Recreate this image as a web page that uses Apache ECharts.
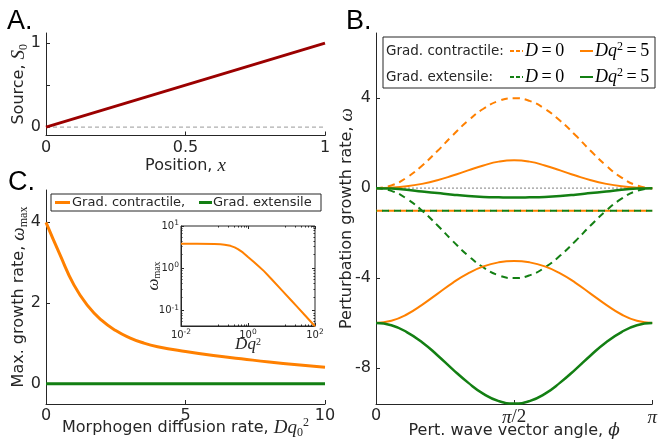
<!DOCTYPE html>
<html>
<head>
<meta charset="utf-8">
<title>growth rate panels</title>
<script src="https://cdn.jsdelivr.net/npm/echarts@6/dist/echarts.min.js"></script>
<style>
  html, body { margin: 0; padding: 0; background: #fff; }
  #main { width: 660px; height: 445px; }
</style>
</head>
<body>
<div id="main"></div>
<script>
// ---- panel A : source profile
var posX = [0, 1];
var srcS0 = [0, 1];

// ---- panel B : growth rate vs angle (angle in degrees, shown as 0, pi/2, pi)
var phiDeg = [0, 10, 20, 30, 40, 50, 60, 70, 80, 90, 100, 110, 120, 130, 140, 150, 160, 170, 180];
var contrD0 = [0, 0.12, 0.47, 1.0, 1.65, 2.35, 3.0, 3.53, 3.88, 4.0, 3.88, 3.53, 3.0, 2.35, 1.65, 1.0, 0.47, 0.12, 0];
var extD0 = [0, -0.12, -0.47, -1.0, -1.65, -2.35, -3.0, -3.53, -3.88, -4.0, -3.88, -3.53, -3.0, -2.35, -1.65, -1.0, -0.47, -0.12, 0];
var flatD0 = [-1, -1, -1, -1, -1, -1, -1, -1, -1, -1, -1, -1, -1, -1, -1, -1, -1, -1, -1];
var contrUp = [0, 0.02, 0.08, 0.19, 0.35, 0.56, 0.79, 1.01, 1.18, 1.24, 1.18, 1.01, 0.79, 0.56, 0.35, 0.19, 0.08, 0.02, 0];
var contrLow = [-6, -5.90, -5.62, -5.19, -4.70, -4.21, -3.79, -3.48, -3.30, -3.24, -3.30, -3.48, -3.79, -4.21, -4.70, -5.19, -5.62, -5.90, -6];
var extUp = [0, -0.02, -0.07, -0.15, -0.22, -0.29, -0.35, -0.39, -0.41, -0.42, -0.41, -0.39, -0.35, -0.29, -0.22, -0.15, -0.07, -0.02, 0];
var extLow = [-6, -6.10, -6.40, -6.85, -7.43, -8.06, -8.65, -9.15, -9.47, -9.58, -9.47, -9.15, -8.65, -8.06, -7.43, -6.85, -6.40, -6.10, -6];

// ---- panel C : max growth rate vs diffusion
var dq = [0, 0.5, 1, 1.5, 2, 2.5, 3, 3.5, 4, 5, 6, 7, 8, 9, 10];
var contrMax = [4.0, 3.2, 2.45, 1.93, 1.57, 1.32, 1.14, 1.01, 0.92, 0.80, 0.70, 0.62, 0.54, 0.47, 0.41];
var extMax = [0, 0, 0, 0, 0, 0, 0, 0, 0, 0, 0, 0, 0, 0, 0];
// inset (log-log)
var dqLog = [0.01, 0.03, 0.1, 0.15, 0.2, 0.3, 0.4, 0.5, 0.7, 1, 1.5, 2, 3, 5, 10, 20, 30, 50, 100];
var contrMaxLog = [3.8, 3.8, 3.76, 3.7, 3.62, 3.4, 3.12, 2.85, 2.38, 1.85, 1.42, 1.15, 0.86, 0.56, 0.31, 0.172, 0.121, 0.078, 0.043];

var ORANGE = '#ff8000';
var GREEN = '#137f13';
var DARKRED = '#9b0000';
var INK = '#262626';
var SANS = '"DejaVu Sans", sans-serif';
var SERIF = '"Liberation Serif", serif';

function zip(xs, ys) {
  var out = [];
  for (var i = 0; i < xs.length; i++) out.push([xs[i], ys[i]]);
  return out;
}

// rich styles for the math bits in names and legends
var nameRich = {
  t: { fontFamily: SANS, fontSize: 16, color: INK, lineHeight: 22 },
  m: { fontFamily: SERIF, fontStyle: 'italic', fontSize: 19, color: INK, lineHeight: 22 },
  g: { fontFamily: '"DejaVu Serif", serif', fontStyle: 'italic', fontSize: 17, color: INK, lineHeight: 22 },
  r: { fontFamily: SERIF, fontSize: 19, color: INK, lineHeight: 22 },
  sub: { fontFamily: SERIF, fontSize: 12, color: INK, lineHeight: 12, verticalAlign: 'bottom' },
  sup: { fontFamily: SERIF, fontSize: 12, color: INK, lineHeight: 12, verticalAlign: 'top' }
};
var insetRich = {
  m: { fontFamily: SERIF, fontStyle: 'italic', fontSize: 17, color: INK, lineHeight: 16 },
  sub: { fontFamily: SERIF, fontSize: 10, color: INK, lineHeight: 10, verticalAlign: 'bottom' },
  sup: { fontFamily: SERIF, fontSize: 10, color: INK, lineHeight: 10, verticalAlign: 'top' }
};
var legRich = {
  m: { fontFamily: SERIF, fontStyle: 'italic', fontSize: 18, color: INK, lineHeight: 20 },
  r: { fontFamily: SERIF, fontSize: 18, color: INK, lineHeight: 20 },
  sup: { fontFamily: SERIF, fontSize: 12, color: INK, lineHeight: 11, verticalAlign: 'top' }
};

function baseAxis(extra) {
  var a = {
    axisLine: { show: true, onZero: false, lineStyle: { color: INK, width: 1 } },
    axisTick: { show: true, inside: true, length: 4, lineStyle: { color: INK } },
    axisLabel: { color: INK, fontFamily: SANS, fontSize: 16, margin: 4 },
    splitLine: { show: false },
    nameLocation: 'middle',
    nameMoveOverlap: false,
    nameTextStyle: { rich: nameRich }
  };
  for (var k in extra) a[k] = extra[k];
  return a;
}

var chart = echarts.init(document.getElementById('main'));

var logLabel = function (v) {
  var e = Math.round(Math.log(v) / Math.LN10);
  return '{b|10}{s|' + e + '}';
};
var logRich = {
  b: { fontFamily: SANS, fontSize: 10, color: INK, lineHeight: 14 },
  s: { fontFamily: SANS, fontSize: 7.5, color: INK, lineHeight: 8, verticalAlign: 'top' }
};

var option = {
  animation: false,
  backgroundColor: '#fff',
  grid: [
    { left: 46, top: 33, width: 279, height: 102.5 },
    { left: 376, top: 33, width: 280, height: 371 },
    { left: 46, top: 190, width: 279, height: 214 },
    { left: 181, top: 226, width: 134, height: 100, show: true, backgroundColor: '#fff', borderColor: INK, borderWidth: 1, z: 5 }
  ],
  xAxis: [
    baseAxis({ gridIndex: 0, type: 'value', min: 0, max: 1, interval: 0.5,
      name: '{t|Position, }{m|x}', nameGap: 19 }),
    baseAxis({ gridIndex: 1, type: 'value', min: 0, max: 180, interval: 90,
      axisLabel: { color: INK, fontFamily: SANS, fontSize: 16, margin: 4,
        formatter: function (v) { return v === 0 ? '{d|0}' : (v === 90 ? '{p|π}{q|/2}' : '{p|π}'); },
        rich: {
          d: { fontFamily: SANS, fontSize: 16, color: INK },
          p: { fontFamily: SERIF, fontStyle: 'italic', fontSize: 19, color: INK },
          q: { fontFamily: SERIF, fontSize: 19, color: INK }
        } },
      name: '{t|Pert. wave vector angle, }{g|ϕ}', nameGap: 16 }),
    baseAxis({ gridIndex: 2, type: 'value', min: 0, max: 10, interval: 5,
      name: '{t|Morphogen diffusion rate, }{m|Dq}{sub|0}{sup|2}', nameGap: 13 }),
    { gridIndex: 3, type: 'log', logBase: 10, min: 0.01, max: 100, interval: 2,
      axisLine: { show: true, onZero: false, lineStyle: { color: INK } },
      axisTick: { show: true, inside: true, length: 3, lineStyle: { color: INK } },
      minorTick: { show: true, splitNumber: 8, length: 1.5, lineStyle: { color: INK } },
      axisLabel: { formatter: logLabel, rich: logRich, margin: 2 },
      splitLine: { show: false },
      name: '{m|Dq}{sup|2}', nameLocation: 'middle', nameGap: 11, nameMoveOverlap: false,
      nameTextStyle: { rich: insetRich }, z: 6 },
    { gridIndex: 3, type: 'log', logBase: 10, min: 0.01, max: 100, interval: 2, position: 'top',
      axisLine: { show: false },
      axisTick: { show: true, inside: true, length: 3, lineStyle: { color: INK } },
      minorTick: { show: true, splitNumber: 8, length: 1.5, lineStyle: { color: INK } },
      axisLabel: { show: false }, splitLine: { show: false }, z: 6 }
  ],
  yAxis: [
    baseAxis({ gridIndex: 0, type: 'value', min: -0.1, max: 1.12,
      axisTick: { show: true, inside: true, length: 4, lineStyle: { color: INK }, customValues: [0, 0.5, 1] },
      axisLabel: { color: INK, fontFamily: SANS, fontSize: 16, margin: 5, customValues: [0, 1] },
      name: '{t|Source, }{m|S}{sub|0}', nameGap: 16 }),
    baseAxis({ gridIndex: 1, type: 'value', min: -9.6, max: 6.9,
      axisTick: { show: true, inside: true, length: 4, lineStyle: { color: INK }, customValues: [-8, -4, 0, 4] },
      axisLabel: { color: INK, fontFamily: SANS, fontSize: 16, margin: 5, customValues: [-8, -4, 0, 4] },
      name: '{t|Perturbation growth rate, }{m|ω}', nameGap: 18 }),
    baseAxis({ gridIndex: 2, type: 'value', min: -0.5, max: 4.8,
      axisTick: { show: true, inside: true, length: 4, lineStyle: { color: INK }, customValues: [0, 2, 4] },
      axisLabel: { color: INK, fontFamily: SANS, fontSize: 16, margin: 5, customValues: [0, 2, 4] },
      name: '{t|Max. growth rate, }{m|ω}{sub|max}', nameGap: 16 }),
    { gridIndex: 3, type: 'log', logBase: 10, min: 0.0435, max: 10, splitNumber: 5,
      axisLine: { show: true, onZero: false, lineStyle: { color: INK } },
      axisTick: { show: true, inside: true, length: 3, lineStyle: { color: INK } },
      minorTick: { show: true, splitNumber: 8, length: 1.5, lineStyle: { color: INK } },
      axisLabel: { formatter: logLabel, rich: logRich, margin: 2, showMinLabel: false },
      splitLine: { show: false },
      name: '{m|ω}{sub|max}', nameLocation: 'middle', nameGap: 19, nameMoveOverlap: false,
      nameTextStyle: { rich: insetRich }, z: 6 },
    { gridIndex: 3, type: 'log', logBase: 10, min: 0.0435, max: 10, splitNumber: 5, position: 'right',
      axisLine: { show: false },
      axisTick: { show: true, inside: true, length: 3, lineStyle: { color: INK } },
      minorTick: { show: true, splitNumber: 8, length: 1.5, lineStyle: { color: INK } },
      axisLabel: { show: false }, splitLine: { show: false }, z: 6 }
  ],
  series: [
    // A
    { name: 'zeroA', type: 'line', xAxisIndex: 0, yAxisIndex: 0, data: [[0, 0], [1, 0]],
      symbol: 'none', lineStyle: { color: '#999', width: 1, type: [4, 3] } },
    { name: 'source', type: 'line', xAxisIndex: 0, yAxisIndex: 0, data: zip(posX, srcS0),
      symbol: 'none', lineStyle: { color: DARKRED, width: 3 } },
    // B
    { name: 'zeroB', type: 'line', xAxisIndex: 1, yAxisIndex: 1, data: [[0, 0], [180, 0]],
      symbol: 'none', lineStyle: { color: '#aaa', width: 1.5, type: [2, 2] } },
    { name: 'cD0', type: 'line', xAxisIndex: 1, yAxisIndex: 1, data: zip(phiDeg, contrD0), smooth: true,
      symbol: 'none', lineStyle: { color: ORANGE, width: 2, type: [7, 5] } },
    { name: 'cD0flat', type: 'line', xAxisIndex: 1, yAxisIndex: 1, data: zip(phiDeg, flatD0),
      symbol: 'none', lineStyle: { color: ORANGE, width: 2, type: [7, 5] } },
    { name: 'eD0', type: 'line', xAxisIndex: 1, yAxisIndex: 1, data: zip(phiDeg, extD0), smooth: true,
      symbol: 'none', lineStyle: { color: GREEN, width: 2, type: [7, 5] } },
    { name: 'eD0flat', type: 'line', xAxisIndex: 1, yAxisIndex: 1, data: zip(phiDeg, flatD0),
      symbol: 'none', lineStyle: { color: GREEN, width: 2, type: [7, 5], dashOffset: 6 } },
    { name: 'cUp', type: 'line', xAxisIndex: 1, yAxisIndex: 1, data: zip(phiDeg, contrUp), smooth: true,
      symbol: 'none', lineStyle: { color: ORANGE, width: 2 } },
    { name: 'cLow', type: 'line', xAxisIndex: 1, yAxisIndex: 1, data: zip(phiDeg, contrLow), smooth: true,
      symbol: 'none', lineStyle: { color: ORANGE, width: 2 } },
    { name: 'eUp', type: 'line', xAxisIndex: 1, yAxisIndex: 1, data: zip(phiDeg, extUp), smooth: true,
      symbol: 'none', lineStyle: { color: GREEN, width: 2.5 } },
    { name: 'eLow', type: 'line', xAxisIndex: 1, yAxisIndex: 1, data: zip(phiDeg, extLow), smooth: true,
      symbol: 'none', lineStyle: { color: GREEN, width: 2.5 } },
    // C
    { name: 'Grad. contractile', type: 'line', xAxisIndex: 2, yAxisIndex: 2, data: zip(dq, contrMax), smooth: true,
      symbol: 'none', lineStyle: { color: ORANGE, width: 3 } },
    { name: 'Grad. extensile', type: 'line', xAxisIndex: 2, yAxisIndex: 2, data: zip(dq, extMax),
      symbol: 'none', lineStyle: { color: GREEN, width: 3 } },
    // inset
    { name: 'insetC', type: 'line', xAxisIndex: 3, yAxisIndex: 3, data: zip(dqLog, contrMaxLog),
      smooth: false, symbol: 'none', z: 7, lineStyle: { color: ORANGE, width: 2, join: 'round' } }
  ],
  graphic: [
    { type: 'text', left: 7, top: 8, style: { text: 'A.', font: '27px "Liberation Sans", sans-serif', fill: '#000' } },
    { type: 'text', left: 346, top: 8, style: { text: 'B.', font: '27px "Liberation Sans", sans-serif', fill: '#000' } },
    { type: 'text', left: 8, top: 169, style: { text: 'C.', font: '27px "Liberation Sans", sans-serif', fill: '#000' } },

    // legend B
    { type: 'rect', shape: { x: 383, y: 37, width: 272, height: 51 }, z: 10,
      style: { fill: '#fff', stroke: INK, lineWidth: 1 } },
    { type: 'text', x: 386, y: 51, z: 11, style: { text: 'Grad. contractile:', font: '13.5px ' + SANS, fill: INK, verticalAlign: 'middle' } },
    { type: 'line', z: 11, shape: { x1: 510, y1: 51, x2: 523, y2: 51 }, style: { stroke: ORANGE, lineWidth: 2, lineDash: [4, 2] } },
    { type: 'text', x: 525, y: 51, z: 11, style: { text: '{m|D}{r|\u2009=\u20090}', verticalAlign: 'middle', rich: legRich } },
    { type: 'line', z: 11, shape: { x1: 580, y1: 51, x2: 593, y2: 51 }, style: { stroke: ORANGE, lineWidth: 2 } },
    { type: 'text', x: 595, y: 51, z: 11, style: { text: '{m|Dq}{sup|2}{r|\u2009=\u20095}', verticalAlign: 'middle', rich: legRich } },
    { type: 'text', x: 386, y: 77, z: 11, style: { text: 'Grad. extensile:', font: '13.5px ' + SANS, fill: INK, verticalAlign: 'middle' } },
    { type: 'line', z: 11, shape: { x1: 510, y1: 77, x2: 523, y2: 77 }, style: { stroke: GREEN, lineWidth: 2, lineDash: [4, 2] } },
    { type: 'text', x: 525, y: 77, z: 11, style: { text: '{m|D}{r|\u2009=\u20090}', verticalAlign: 'middle', rich: legRich } },
    { type: 'line', z: 11, shape: { x1: 580, y1: 77, x2: 593, y2: 77 }, style: { stroke: GREEN, lineWidth: 2 } },
    { type: 'text', x: 595, y: 77, z: 11, style: { text: '{m|Dq}{sup|2}{r|\u2009=\u20095}', verticalAlign: 'middle', rich: legRich } },

    // legend C
    { type: 'rect', shape: { x: 51, y: 194, width: 270, height: 17 }, z: 10,
      style: { fill: '#fff', stroke: INK, lineWidth: 1 } },
    { type: 'line', z: 11, shape: { x1: 55, y1: 202.5, x2: 70, y2: 202.5 }, style: { stroke: ORANGE, lineWidth: 3 } },
    { type: 'text', x: 72, y: 202.5, z: 11, style: { text: 'Grad. contractile,', font: '13px ' + SANS, fill: INK, verticalAlign: 'middle' } },
    { type: 'line', z: 11, shape: { x1: 199, y1: 202.5, x2: 212, y2: 202.5 }, style: { stroke: GREEN, lineWidth: 3 } },
    { type: 'text', x: 213, y: 202.5, z: 11, style: { text: 'Grad. extensile', font: '13px ' + SANS, fill: INK, verticalAlign: 'middle' } }
  ]
};

chart.setOption(option);
</script>
</body>
</html>
